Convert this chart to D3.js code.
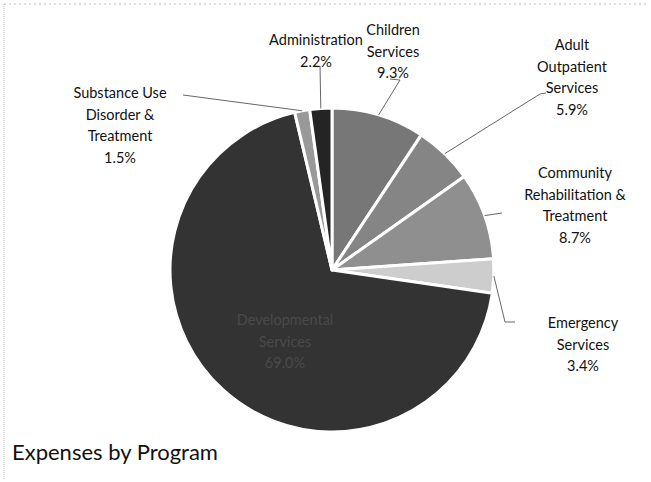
<!DOCTYPE html>
<html>
<head>
<meta charset="utf-8">
<script src="https://cdn.jsdelivr.net/npm/d3@7"></script>
<style>
  body { margin: 0; background: #fff; }
  svg { display: block; font-family: Lato, "Open Sans", sans-serif; }
</style>
</head>
<body>
<svg id="chart" width="651" height="482"></svg>
<script>
// slices, clockwise from 12 o'clock
const programs = ["Children Services", "Adult Outpatient Services", "Community Rehabilitation & Treatment",
  "Emergency Services", "Developmental Services", "Substance Use Disorder & Treatment", "Administration"];
const shares = [9.3, 5.9, 8.7, 3.4, 69.0, 1.5, 2.2];
const labelLines = [
  ["Children", "Services", "9.3%"],
  ["Adult", "Outpatient", "Services", "5.9%"],
  ["Community", "Rehabilitation &", "Treatment", "8.7%"],
  ["Emergency", "Services", "3.4%"],
  ["Developmental", "Services", "69.0%"],
  ["Substance Use", "Disorder &", "Treatment", "1.5%"],
  ["Administration", "2.2%"]
];
const greys = ["#777777", "#858585", "#8f8f8f", "#cdcdcd", "#333333", "#999999", "#242424"];

const svg = d3.select("#chart");
const W = 651, H = 482;
const cx = 332, cy = 270, R = 162;

// scanned page frame
svg.append("line").attr("x1", 4).attr("y1", 4).attr("x2", W - 4).attr("y2", 4)
  .attr("stroke", "#bbb").attr("stroke-dasharray", "2,3");
svg.append("line").attr("x1", 4).attr("y1", 4).attr("x2", 4).attr("y2", H - 2)
  .attr("stroke", "#bbb").attr("stroke-dasharray", "1,1");

const pie = d3.pie().sort(null).value(d => d)(shares);
const arc = d3.arc().innerRadius(0).outerRadius(R);
const rim = d3.arc().innerRadius(R).outerRadius(R);

const g = svg.append("g").attr("transform", `translate(${cx},${cy})`);
g.selectAll("path").data(pie).enter().append("path")
  .attr("d", arc)
  .attr("fill", (d, i) => greys[i])
  .attr("stroke", "#fff")
  .attr("stroke-width", 3)
  .attr("stroke-linejoin", "round");

// label placement (layout only): text centre x, first baseline y, leader bend points
const labelLayout = [
  { x: 393, y: 35, pts: [[400, 80], [390, 79]] },
  { x: 572, y: 50, pts: [[540, 94], [546, 93]] },
  { x: 575, y: 178, pts: [[502, 213]] },
  { x: 583, y: 328, pts: [[505, 322], [515, 322]] },
  { x: 285, y: 325, pts: null },
  { x: 120, y: 98, pts: [[183, 95]] },
  { x: 316, y: 45, pts: [[320, 66]] }
];

const lh = 21.5;
pie.forEach((d, i) => {
  const L = labelLayout[i];
  const [sx, sy] = rim.centroid(d);
  if (L.pts) {
    const pts = [[cx + sx, cy + sy]].concat(L.pts);
    svg.append("path").attr("d", d3.line()(pts))
      .attr("fill", "none").attr("stroke", "#555").attr("stroke-width", 0.9);
  }
  const t = svg.append("text")
    .attr("text-anchor", "middle")
    .attr("font-size", 14.5)
    .attr("fill", i === 4 ? "#4a4a4a" : "#111");
  labelLines[i].forEach((s, k) => {
    t.append("tspan").attr("x", L.x).attr("y", L.y + k * lh).text(s);
  });
});

svg.append("text")
  .attr("x", 12).attr("y", 460)
  .attr("font-size", 22)
  .attr("fill", "#111")
  .text("Expenses by Program");
</script>
</body>
</html>
